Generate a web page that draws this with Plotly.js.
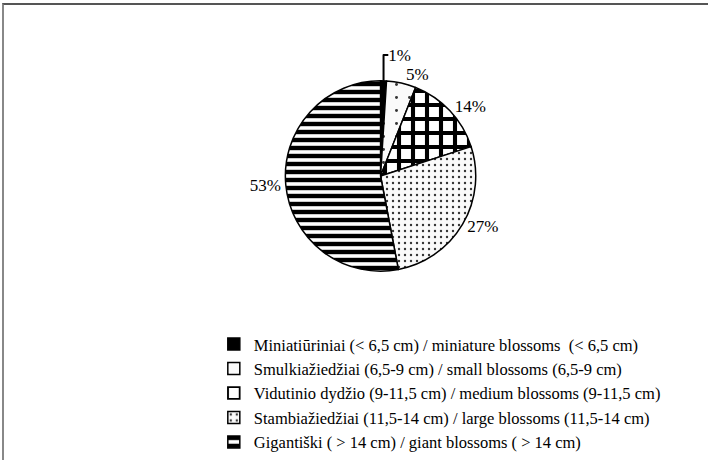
<!DOCTYPE html>
<html>
<head>
<meta charset="utf-8">
<script src="https://cdn.plot.ly/plotly-3.0.1.min.js"></script>
<style>
html,body{margin:0;padding:0;background:#fff;}
#frame{position:absolute;left:2px;top:3px;width:720px;height:480px;border-top:2px solid #555;border-left:2px solid #888;}
#chart{position:absolute;left:0;top:0;width:708px;height:460px;}
</style>
</head>
<body>
<div id="frame"></div>
<div id="chart"></div>
<script>
const categories = [
  "Miniatiūriniai (< 6,5 cm) / miniature blossoms  (< 6,5 cm)",
  "Smulkiažiedžiai (6,5-9 cm) / small blossoms (6,5-9 cm)",
  "Vidutinio dydžio (9-11,5 cm) / medium blossoms (9-11,5 cm)",
  "Stambiažiedžiai (11,5-14 cm) / large blossoms (11,5-14 cm)",
  "Gigantiški ( > 14 cm) / giant blossoms ( > 14 cm)"
];
const shares = [1, 5, 14, 27, 53];
const labelsText = ["1%", "5%", "14%", "27%", "53%"];

const trace = {
  type: "pie",
  labels: categories,
  values: shares,
  text: labelsText,
  textinfo: "text",
  textposition: "outside",
  sort: false,
  direction: "clockwise",
  rotation: 0,
  hole: 0,
  domain: {x: [0.402, 0.673], y: [0.396, 0.820]},
  automargin: false,
  outsidetextfont: {family: "Liberation Serif, Times New Roman, serif", size: 17, color: "#000"},
  marker: {
    colors: ["#000000", "#ffffff", "#ffffff", "#ffffff", "#ffffff"],
    line: {color: "#000", width: 1.5},
    pattern: {
      shape: ["", ".", "+", ".", "-"],
      fgcolor: ["#000", "#333", "#000", "#333", "#000"],
      bgcolor: ["#000", "#fafafa", "#fff", "#fafafa", "#fff"],
      size: [8, 13, 14, 6, 8],
      solidity: [0.5, 0.04, 0.5, 0.12, 0.55],
      fillmode: "replace"
    }
  },
  hoverinfo: "skip"
};

const layout = {
  width: 708,
  height: 460,
  margin: {l: 0, r: 0, t: 0, b: 0},
  paper_bgcolor: "rgba(0,0,0,0)",
  plot_bgcolor: "rgba(0,0,0,0)",
  showlegend: true,
  legend: {
    x: 0.302, xanchor: "left",
    y: 0.272, yanchor: "top",
    font: {family: "Liberation Serif, Times New Roman, serif", size: 16.5, color: "#000"},
    tracegroupgap: 0,
    itemwidth: 30,
    bgcolor: "rgba(0,0,0,0)"
  }
};

Plotly.newPlot("chart", [trace], layout, {staticPlot: true});
</script>
</body>
</html>
